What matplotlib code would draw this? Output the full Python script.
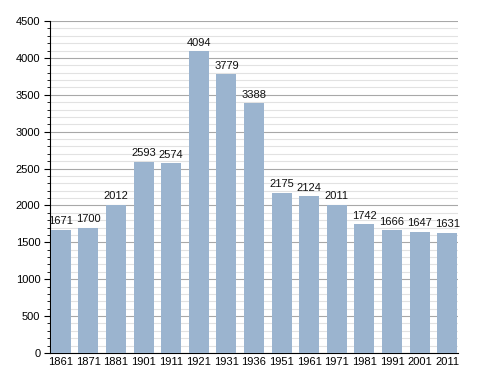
import matplotlib
matplotlib.use('Agg')
import matplotlib.pyplot as plt
from matplotlib.ticker import MultipleLocator

plt.rcParams['font.family'] = ['Liberation Sans', 'DejaVu Sans']

years = ['1861', '1871', '1881', '1901', '1911', '1921', '1931', '1936',
         '1951', '1961', '1971', '1981', '1991', '2001', '2011']
population = [1671, 1700, 2012, 2593, 2574, 4094, 3779, 3388,
              2175, 2124, 2011, 1742, 1666, 1647, 1631]

fig = plt.figure(figsize=(4.88, 3.73), dpi=100)
ax = fig.add_axes([0.1025, 0.0536, 0.836, 0.89])

x = range(len(years))
ax.bar(x, population, width=0.725, color='#9bb4cf', zorder=3)

for xi, v in zip(x, population):
    ax.text(xi, v + 45, str(v), ha='center', va='bottom', fontsize=8, color='#111111', zorder=4)

ax.set_xlim(-0.39, len(years) - 1 + 0.39)
ax.set_ylim(0, 4500)
ax.set_xticks(list(x))
ax.set_xticklabels(years)
ax.yaxis.set_major_locator(MultipleLocator(500))
ax.yaxis.set_minor_locator(MultipleLocator(100))
ax.grid(which='major', axis='y', color='#a8a8a8', linewidth=0.8, zorder=1)
ax.grid(which='minor', axis='y', color='#e2e2e2', linewidth=0.8, zorder=0)

for side in ['top', 'right']:
    ax.spines[side].set_visible(False)
ax.spines['left'].set_color('black')
ax.spines['bottom'].set_color('black')
ax.tick_params(axis='y', which='major', length=4, labelsize=8, pad=3)
ax.tick_params(axis='y', which='minor', length=2)
ax.tick_params(axis='x', length=0, labelsize=8, pad=3)

fig.savefig('out.png', dpi=100)
